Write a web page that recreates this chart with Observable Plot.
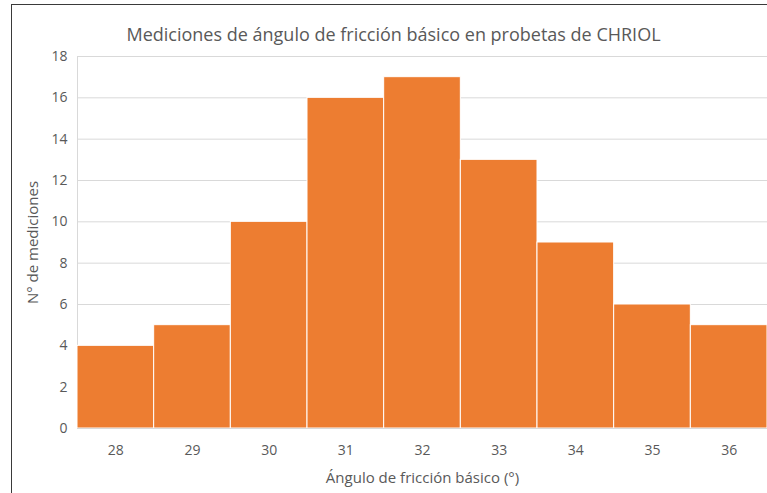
<!DOCTYPE html>
<html>
<head>
<meta charset="utf-8">
<script src="https://cdn.jsdelivr.net/npm/d3@7"></script>
<script src="https://cdn.jsdelivr.net/npm/@observablehq/plot@0.6"></script>
<style>
  html, body { margin: 0; padding: 0; background: #fff; }
  #wrap { position: relative; width: 767px; height: 493px; overflow: hidden; }
  #border { position: absolute; left: 11px; top: 4px; width: 900px; height: 700px; border: 1.5px solid #3a3a3a; box-sizing: border-box; }
  #chart { position: absolute; left: 0; top: 0; }
  svg { font-family: "Open Sans", sans-serif; }
</style>
</head>
<body>
<div id="wrap"><div id="border"></div><div id="chart"></div></div>
<script>
const categories = ["28", "29", "30", "31", "32", "33", "34", "35", "36"];
const counts = [4, 5, 10, 16, 17, 13, 9, 6, 5];
const yTicks = [0, 2, 4, 6, 8, 10, 12, 14, 16, 18];
const title = "Mediciones de ángulo de fricción básico en probetas de CHRIOL";
const xLabel = "Ángulo de fricción básico (°)";
const yLabel = "N° de mediciones";

const data = categories.map((c, i) => ({cat: c, n: counts[i]}));

const chart = Plot.plot({
  width: 767,
  height: 493,
  marginLeft: 77,
  marginRight: 0,
  marginTop: 56,
  marginBottom: 65,
  style: {fontFamily: "Open Sans, sans-serif", color: "#595959", background: "transparent"},
  x: {domain: categories, padding: 0, round: false, label: null},
  y: {domain: [0, 18], ticks: yTicks, label: null},
  marks: [
    Plot.gridY(yTicks, {stroke: "#d9d9d9", strokeOpacity: 1, strokeWidth: 1}),
    Plot.frame({anchor: "left", stroke: "#d9d9d9", strokeOpacity: 1}),
    Plot.barY(data, {x: "cat", y: "n", fill: "#ED7D31", stroke: "#ffffff", strokeWidth: 1, inset: 0}),
    Plot.ruleY([0], {stroke: "#d9d9d9", strokeWidth: 1}),
    Plot.axisX({tickSize: 0, tickPadding: 17, fill: "#595959", label: null}),
    Plot.axisY(yTicks, {tickSize: 0, tickPadding: 10, fill: "#595959", label: null}),
    Plot.text([title], {frameAnchor: "top", dy: -28, dx: -29, fontSize: 18, fill: "#595959"}),
    Plot.text([xLabel], {frameAnchor: "bottom", dy: 54, fontSize: 15, fill: "#595959"}),
    Plot.text([yLabel], {frameAnchor: "left", dx: -44, rotate: -90, textAnchor: "middle", fontSize: 15, fill: "#595959"})
  ]
});
// enlarge the axis tick labels
const tickTexts = new Set([...categories, ...yTicks.map(String)]);
d3.select(chart).selectAll("text").each(function () {
  if (tickTexts.has(this.textContent.trim())) this.style.fontSize = "14px";
});
document.getElementById("chart").appendChild(chart);
</script>
</body>
</html>
